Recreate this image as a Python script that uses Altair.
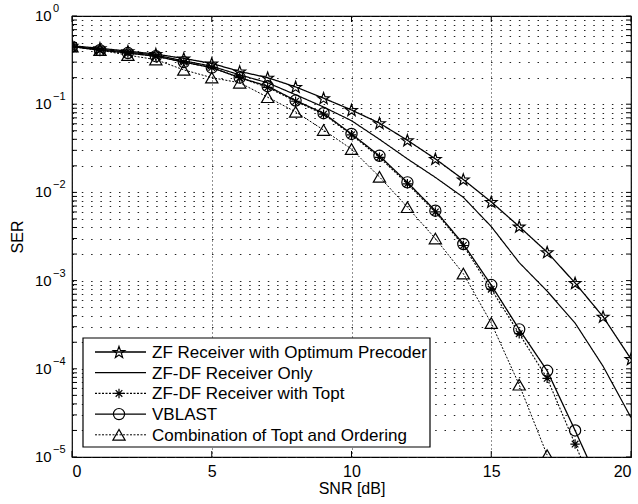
import math
import altair as alt
import pandas as pd

# ---------------- data ----------------
snr = list(range(21))
names = [
    "ZF Receiver with Optimum Precoder",
    "ZF-DF Receiver Only",
    "ZF-DF Receiver with Topt",
    "VBLAST",
    "Combination of Topt and Ordering",
]
ser_zf_opt = [0.46, 0.43, 0.40, 0.37, 0.33, 0.29, 0.235, 0.20, 0.157, 0.117, 0.086,
              0.061, 0.039, 0.024, 0.014, 0.0078, 0.0041, 0.0021, 0.00094, 0.00039, 0.000129]
ser_zfdf = [0.45, 0.42, 0.39, 0.36, 0.31, 0.27, 0.215, 0.175, 0.128, 0.093, 0.065,
            0.040, 0.024, 0.0148, 0.0088, 0.0041, 0.0016, 0.00076, 0.00033, 0.000107, 2.8e-5]
ser_topt = [0.45, 0.41, 0.38, 0.35, 0.30, 0.26, 0.20, 0.155, 0.108, 0.077, 0.045,
            0.025, 0.0125, 0.006, 0.0025, 0.0008, 0.00025, 7.8e-5, 1.4e-5, 2.5e-6]
ser_vblast = [0.45, 0.41, 0.38, 0.35, 0.30, 0.26, 0.20, 0.16, 0.11, 0.079, 0.046,
              0.026, 0.013, 0.0062, 0.0026, 0.00089, 0.00028, 9.5e-5, 2.0e-5, 4e-6]
ser_comb = [0.45, 0.41, 0.36, 0.32, 0.245, 0.20, 0.175, 0.12, 0.082, 0.051, 0.031,
            0.015, 0.0068, 0.0030, 0.0012, 0.00033, 6.6e-5, 1.05e-5]
all_series = [ser_zf_opt, ser_zfdf, ser_topt, ser_vblast, ser_comb]

x_ticks = [0, 5, 10, 15, 20]
decades = [-5, -4, -3, -2, -1, 0]

# ---------------- styles ----------------
W, H = 559, 441
FONT = "Liberation Sans"


def star_path():
    pts = []
    for k in range(10):
        r = 1.0 if k % 2 == 0 else 0.40
        a = math.radians(-90 + 36 * k)
        pts.append(f"{r * math.cos(a):.3f},{r * math.sin(a) + 0.08:.3f}")
    return "M" + "L".join(pts) + "Z"


ASTER = "M0,-1L0,1M-1,0L1,0M-0.7,-0.7L0.7,0.7M-0.7,0.7L0.7,-0.7"
styles = {
    names[0]: dict(shape=star_path(), size=150, dash=[1, 0], sw=1.3),
    names[1]: dict(shape=None, size=0, dash=[1, 0], sw=1.2),
    names[2]: dict(shape=ASTER, size=90, dash=[2, 1.5], sw=1.1),
    names[3]: dict(shape="circle", size=125, dash=[1, 0], sw=1.3),
    names[4]: dict(shape="triangle-up", size=150, dash=[2, 1.5], sw=1.0),
}

rows = []
for name, vals in zip(names, all_series):
    for xv, yv in zip(snr, vals):
        rows.append({"snr": xv, "ser": yv, "series": name})
df = pd.DataFrame(rows)

minor_vals = []
for d in decades[:-1]:
    for k in range(1, 10):
        minor_vals.append(k * 10 ** d)
minor_vals.append(1.0)
tick_df = pd.DataFrame({"ser": minor_vals})
dec_df = pd.DataFrame({"ser": [10.0 ** d for d in decades],
                       "e": [("\u2212" + str(-d)) if d < 0 else str(d) for d in decades]})
xt_df = pd.DataFrame({"snr": x_ticks})

yscale = alt.Scale(type="log", domain=[1e-5, 1], nice=False)
xscale = alt.Scale(domain=[0, 20], nice=False)

x_axis = alt.Axis(
    values=x_ticks, title="SNR [dB]", grid=True, gridDash=[1, 3], gridColor="#222",
    gridWidth=1, ticks=False, domain=False, labelFontSize=16, labelFont=FONT,
    labelColor="black", labelPadding=6, titleFontSize=16, titleFont=FONT,
    titleFontWeight="normal", titleColor="black", titleY=23, titleBaseline="top")
y_axis = alt.Axis(
    values=minor_vals, title="SER", grid=True, gridDash=[1.5, 7.8], gridColor="#222",
    gridWidth=1, ticks=False, domain=False, labels=False, titleFontSize=16,
    titleFont=FONT, titleFontWeight="normal", titleColor="black", titleX=-47)


def X():
    return alt.X("snr:Q", scale=xscale, axis=x_axis, title="SNR [dB]")


def Y():
    return alt.Y("ser:Q", scale=yscale, axis=y_axis, title="SER")


layers = []
for name in names:
    st = styles[name]
    sub = df[df.series == name]
    layers.append(alt.Chart(sub).mark_line(
        clip=True, color="black", strokeWidth=st["sw"], strokeDash=st["dash"]
    ).encode(x=X(), y=Y()))
    if st["shape"]:
        layers.append(alt.Chart(sub).mark_point(
            clip=True, shape=st["shape"], size=st["size"], filled=False,
            color="black", strokeWidth=1.2, opacity=1
        ).encode(x=X(), y=Y()))

# inward ticks on left and right
for x0, x1 in [(0, 5), (W - 5, W)]:
    layers.append(alt.Chart(tick_df).mark_rule(color="black", strokeWidth=1).encode(
        y=Y(), x=alt.value(x0), x2=alt.value(x1)))
# inward ticks on bottom and top
for y0, y1 in [(H, H - 6), (0, 6)]:
    layers.append(alt.Chart(xt_df).mark_rule(color="black", strokeWidth=1).encode(
        x=X(), y=alt.value(y0), y2=alt.value(y1)))

# y tick labels 10^k
layers.append(alt.Chart(dec_df).mark_text(
    align="left", baseline="middle", fontSize=15, font=FONT, color="black").encode(
    y=Y(), x=alt.value(-37), text=alt.value("10")))
layers.append(alt.Chart(dec_df).mark_text(
    align="left", baseline="middle", fontSize=11, font=FONT, color="black", dy=-7).encode(
    y=Y(), x=alt.value(-19), text="e:N"))

# legend box
LX0, LX1, LY0, LY1 = 11, 358, 322, 431
layers.append(alt.Chart(pd.DataFrame({"a": [0]})).mark_rect(
    fill="white", stroke="black", strokeWidth=1.2).encode(
    x=alt.value(LX0), x2=alt.value(LX1), y=alt.value(LY0), y2=alt.value(LY1)))
for i, name in enumerate(names):
    st = styles[name]
    yy = 336 + i * 20.7
    one = pd.DataFrame({"a": [0]})
    layers.append(alt.Chart(one).mark_rule(
        color="black", strokeWidth=st["sw"], strokeDash=st["dash"]).encode(
        x=alt.value(23), x2=alt.value(74), y=alt.value(yy)))
    if st["shape"]:
        layers.append(alt.Chart(one).mark_point(
            shape=st["shape"], size=st["size"], filled=False, color="black",
            strokeWidth=1.2, opacity=1).encode(x=alt.value(47), y=alt.value(yy)))
    layers.append(alt.Chart(one).mark_text(
        align="left", baseline="middle", fontSize=17, font=FONT, color="black").encode(
        x=alt.value(80), y=alt.value(yy + 1), text=alt.value(name)))

chart = alt.layer(*layers).properties(
    width=W, height=H,
    autosize=alt.AutoSizeParams(type="none"),
    padding={"left": 72, "top": 16, "right": 7, "bottom": 47},
    background="white",
).configure_view(stroke="black", strokeWidth=1.2)

chart.save("out.html", embed_options={"renderer": "svg", "actions": False})
